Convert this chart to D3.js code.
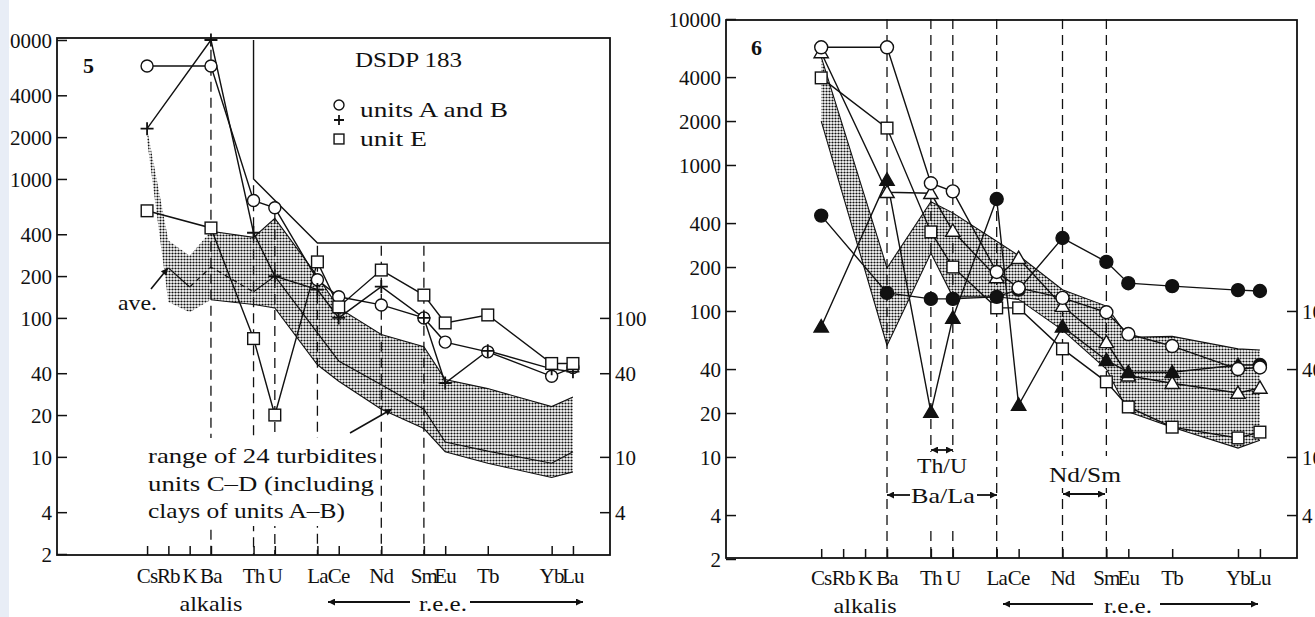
<!DOCTYPE html>
<html><head><meta charset="utf-8">
<script src="https://cdn.jsdelivr.net/npm/d3@7"></script>
<style>body{margin:0;background:#fff}svg{display:block}</style>
</head><body><svg id="c" width="1315" height="617"></svg>
<script>
// ---------- data ----------
const elements = ["Cs","Rb","K","Ba","Th","U","La","Ce","Nd","Sm","Eu","Tb","Yb","Lu"];
const slots    = [0,1,2,3,5,6,8,9,11,13,14,16,19,20];   // abscissa slot of each element
const yTickValues = [2,4,10,20,40,100,200,400,1000,2000,4000,10000];
const rightTickValues = [4,10,40,100];

// Fig. 5 (DSDP 183)
const p5UnitsABCircle = [6500,null,null,6500,700,620,188,142,124,100,67,57,38,44];
const p5UnitsABCross  = [2300,null,null,10000,410,200,160,100,168,100,34,58,43,41];
const p5UnitE         = [590,null,null,444,71,20,253,120,221,146,92,105,47,47];
const p5RangeUpper    = [2300,360,280,420,380,520,200,118,76,62,36,31,23,27];
const p5RangeLower    = [1900,130,110,135,125,118,46,35,22,16,10.9,9,7.1,7.8];
const p5Average       = [null,229,167,232,154,200,78,49,33,22,12.8,11,9,10.9];
const p5LimitSlots    = [5,5,8,21.74];
const p5LimitValues   = [10000,1000,346,346];
const p5Guides        = ["Ba","Th","U","La","Nd","Sm"];
const p5GuideTops     = [8500,900,560,330,330,330];

// Fig. 6
const p6OpenCircle     = [6400,null,null,6400,750,660,185,144,123,98,69.5,57.5,40,41];
const p6FilledCircle   = [450,null,null,133,121,121,125,140,316,217,155,148,139,137];
const p6OpenTriangle   = [5900,null,null,650,640,353,170,230,108,61,36,32,27.4,29.7];
const p6FilledTriangle = [78,null,null,790,20.3,89.5,585,22.7,78,46,38,38,42.6,42.6];
const p6Square         = [3950,null,null,1790,348,200,105,105,55,32.7,22,16,13.5,14.8];
const p6RangeUpper     = [5500,null,null,197,560,470,300,240,140,108,66,67,55,54];
const p6RangeLower     = [2000,null,null,58,249,125,125,120,74,40,20.4,16,11.5,13];
const p6Guides         = ["Ba","Th","U","La","Nd","Sm"];
const p6GuideTops      = [10000,10000,10000,10000,10000,10000];

// ---------- drawing ----------
const FONT = "Liberation Serif";
const svg = d3.select("#c");
const defs = svg.append("defs");
const pat = defs.append("pattern").attr("id","stip").attr("patternUnits","userSpaceOnUse").attr("width",3).attr("height",3);
pat.append("rect").attr("width",3).attr("height",3).attr("fill","#fff");
pat.append("circle").attr("cx",1.5).attr("cy",1.5).attr("r",1.1).attr("fill","#111");
defs.append("marker").attr("id","ah").attr("viewBox","0 0 10 10").attr("refX",10).attr("refY",5)
  .attr("markerWidth",12).attr("markerHeight",7).attr("markerUnits","userSpaceOnUse")
  .attr("orient","auto-start-reverse").append("path").attr("d","M0,0L10,5L0,10z").attr("fill","#111");

const idx = name => elements.indexOf(name);

function marker(g, type, cx, cy, s) {
  let el;
  if (type === "circle" || type === "dot") {
    el = g.append("circle").attr("cx",cx).attr("cy",cy).attr("r",s*0.5)
      .attr("fill", type==="dot" ? "#111" : "#fff");
  } else if (type === "square") {
    el = g.append("rect").attr("x",cx-s*0.45).attr("y",cy-s*0.45).attr("width",s*0.9).attr("height",s*0.9).attr("fill","#fff");
  } else if (type === "tri" || type === "ftri") {
    const h = s*0.9, w = s*0.55;
    el = g.append("path").attr("d",`M${cx},${cy-h*0.6}L${cx+w},${cy+h*0.45}L${cx-w},${cy+h*0.45}Z`)
      .attr("fill", type==="ftri" ? "#111" : "#fff");
  } else if (type === "plus") {
    const a = s*0.5;
    g.append("path").attr("d",`M${cx-a},${cy}H${cx+a}M${cx},${cy-a}V${cy+a}`).attr("fill","none")
      .attr("stroke","#111").attr("stroke-width",1.8);
    return;
  }
  el.attr("stroke","#111").attr("stroke-width",1.4);
}

function txt(g, x, y, s, opts={}) {
  const t = g.append("text").attr("x",x).attr("y",y).attr("text-anchor",opts.anchor||"start")
    .style("font-family",FONT).style("font-size",(opts.size||21)+"px").attr("fill","#111").text(s);
  if (opts.bold) t.style("font-weight","bold");
  if (opts.len) t.attr("textLength",opts.len).attr("lengthAdjust","spacingAndGlyphs");
  return t;
}

function drawPanel(P) {
  const x = d3.scaleLinear().domain(P.xDomain).range([P.left, P.right]);
  const y = d3.scaleLog().domain([2,10000]).range(P.yRange);
  const g = svg.append("g");
  const pts = vals => vals.map((v,i)=>({s:slots[i], v, name:elements[i]})).filter(d=>d.v!=null);
  const line = d3.line().x(d=>x(d.s)).y(d=>y(d.v));

  const bandData = P.upper.map((u,i)=>({s:slots[i], hi:u, lo:P.lower[i]})).filter(d=>d.hi!=null && d.lo!=null);
  g.append("path").datum(bandData)
    .attr("d", d3.area().x(d=>x(d.s)).y0(d=>y(d.lo)).y1(d=>y(d.hi)))
    .attr("fill","url(#stip)").attr("stroke","none");

  P.guides.forEach((name,k)=>{
    const s = slots[idx(name)];
    g.append("line").attr("x1",x(s)).attr("x2",x(s)).attr("y1",y(P.guideTops[k])).attr("y2",P.bottom)
      .attr("stroke","#111").attr("stroke-width",1.3).attr("stroke-dasharray","10,6");
  });
  P.blanks.forEach(b=>g.append("rect").attr("x",b[0]).attr("y",b[1]).attr("width",b[2]).attr("height",b[3]).attr("fill","#fff"));

  [P.upper, P.lower].forEach(arr=>{
    g.append("path").datum(pts(arr).filter(d=>d.s>=P.edgeFrom)).attr("d",line)
      .attr("fill","none").attr("stroke","#111").attr("stroke-width",1.1);
  });
  if (P.extra) P.extra(g, x, y, line, pts);

  g.append("rect").attr("x",P.left).attr("y",P.top).attr("width",P.right-P.left).attr("height",P.bottom-P.top)
    .attr("fill","none").attr("stroke","#111").attr("stroke-width",1.8);

  const ya = g.append("g").attr("transform",`translate(${P.left},0)`)
    .call(d3.axisLeft(y).tickValues(yTickValues).tickFormat(d3.format("d")).tickSize(-10).tickPadding(5));
  const yr = g.append("g").attr("transform",`translate(${P.right},0)`)
    .call(d3.axisRight(y).tickValues(rightTickValues).tickFormat(d3.format("d")).tickSize(-10).tickPadding(5));
  const xa = g.append("g").attr("transform",`translate(0,${P.bottom})`)
    .call(d3.axisBottom(x).tickValues(slots).tickFormat("").tickSize(-9));
  [ya,yr,xa].forEach(a=>{
    a.select(".domain").remove();
    a.selectAll("line").attr("stroke","#111").attr("stroke-width",1.5);
    a.selectAll("text").style("font-family",FONT).style("font-size","21px").attr("fill","#111").attr("dy","0.34em");
  });
  g.selectAll(".el").data(elements).enter().append("text")
    .attr("x",(d,i)=>x(slots[i])).attr("y",P.labelY).attr("text-anchor","middle")
    .style("font-family",FONT).style("font-size","21px").style("letter-spacing","-0.8px").attr("fill","#111").text(d=>d);
  txt(g, x(P.alkalisAt), P.labelY+28, "alkalis", {anchor:"middle", len:63});
  const ay = P.labelY+19;
  g.append("line").attr("x1",P.ree[1]).attr("x2",P.ree[0]).attr("y1",ay).attr("y2",ay).attr("stroke","#111").attr("stroke-width",2).attr("marker-end","url(#ah)");
  g.append("line").attr("x1",P.ree[3]).attr("x2",P.ree[4]).attr("y1",ay).attr("y2",ay).attr("stroke","#111").attr("stroke-width",2).attr("marker-end","url(#ah)");
  txt(g, P.ree[2], ay+9, "r.e.e.", {anchor:"middle", len:48});
  txt(g, P.numX, P.numY, P.num, {bold:true, size:22});

  P.series.forEach(S=>{
    g.append("path").datum(pts(S.vals)).attr("d",line).attr("fill","none").attr("stroke","#111").attr("stroke-width",1.4);
  });
  P.series.forEach(S=>{
    pts(S.vals).forEach(d=>marker(g, (S.dotAt && S.dotAt.includes(d.name)) ? "dot" : S.type, x(d.s), y(d.v), S.size));
  });
  return {x,y,g};
}

drawPanel({
  num:"5", numX:83, numY:73,
  left:57, right:610, top:38, bottom:555, xDomain:[-4.23,21.74], yRange:[554,40],
  upper:p5RangeUpper, lower:p5RangeLower, edgeFrom:3,
  guides:p5Guides, guideTops:p5GuideTops,
  blanks:[[143,438,236,88]],
  labelY:583, alkalisAt:3, ree:[328,410,443,470,583],
  series:[
    {vals:p5UnitsABCircle, type:"circle", size:12},
    {vals:p5UnitsABCross, type:"plus", size:13},
    {vals:p5UnitE, type:"square", size:13}
  ],
  extra:(g,x,y,line,pts)=>{
    const lim = p5LimitSlots.map((s,i)=>({s, v:p5LimitValues[i]}));
    g.append("path").datum(lim).attr("d",line).attr("fill","none").attr("stroke","#111").attr("stroke-width",1.4);
    const av = pts(p5Average);
    g.append("path").datum(av.filter(d=>d.s<=2)).attr("d",line).attr("fill","none").attr("stroke","#111").attr("stroke-width",1.2);
    g.append("path").datum(av.filter(d=>d.s>=2 && d.s<=5)).attr("d",line).attr("fill","none").attr("stroke","#111").attr("stroke-width",1.2).attr("stroke-dasharray","5,4");
    g.append("path").datum(av.filter(d=>d.s>=5)).attr("d",line).attr("fill","none").attr("stroke","#111").attr("stroke-width",1.2);
  }
});

drawPanel({
  num:"6", numX:751, numY:55,
  left:726, right:1297, top:20, bottom:558, xDomain:[-4.34,21.69], yRange:[559,19],
  upper:p6RangeUpper, lower:p6RangeLower, edgeFrom:0,
  guides:p6Guides, guideTops:p6GuideTops,
  blanks:[[922,452,40,74],[908,483,72,25],[1053,456,62,32]],
  labelY:585, alkalisAt:2, ree:[1003,1093,1128,1160,1258],
  series:[
    {vals:p6Square, type:"square", size:13},
    {vals:p6OpenTriangle, type:"tri", size:13},
    {vals:p6FilledTriangle, type:"ftri", size:13, dotAt:["La","Lu"]},
    {vals:p6FilledCircle, type:"dot", size:13},
    {vals:p6OpenCircle, type:"circle", size:13}
  ]
});

txt(svg,355,67,"DSDP 183",{size:22,len:107});
txt(svg,360,117,"units A and B",{size:22,len:148});
txt(svg,360,146,"unit E",{size:22,len:67});
marker(svg,"circle",339,105,10);
marker(svg,"plus",339,120,10);
marker(svg,"square",339,139,11);
txt(svg,118,310,"ave.",{size:21,len:39});
svg.append("line").attr("x1",151).attr("y1",289).attr("x2",168).attr("y2",268).attr("stroke","#111").attr("stroke-width",1.6).attr("marker-end","url(#ah)");
txt(svg,148,463,"range of 24 turbidites",{size:22,len:229});
txt(svg,148,491,"units C–D (including",{size:22,len:226});
txt(svg,148,518,"clays of units A–B)",{size:22,len:197});
svg.append("line").attr("x1",350).attr("y1",433).attr("x2",392).attr("y2",409).attr("stroke","#111").attr("stroke-width",1.6).attr("marker-end","url(#ah)");

txt(svg,942,473,"Th/U",{anchor:"middle",size:22,len:50});
txt(svg,943,503,"Ba/La",{anchor:"middle",size:22,len:64});
txt(svg,1085,482,"Nd/Sm",{anchor:"middle",size:22,len:72});
const arr = (x1,x2,yy,both)=>{
  const l = svg.append("line").attr("x1",x1).attr("x2",x2).attr("y1",yy).attr("y2",yy).attr("stroke","#111").attr("stroke-width",1.8).attr("marker-end","url(#ah)");
  if (both) l.attr("marker-start","url(#ah)");
};
arr(931,953,450,true);
arr(910,887,495,false);
arr(977,997,495,false);
arr(1063,1105,494,true);

svg.append("rect").attr("x",0).attr("y",0).attr("width",9).attr("height",617).attr("fill","#e8edf6");
</script></body></html>
